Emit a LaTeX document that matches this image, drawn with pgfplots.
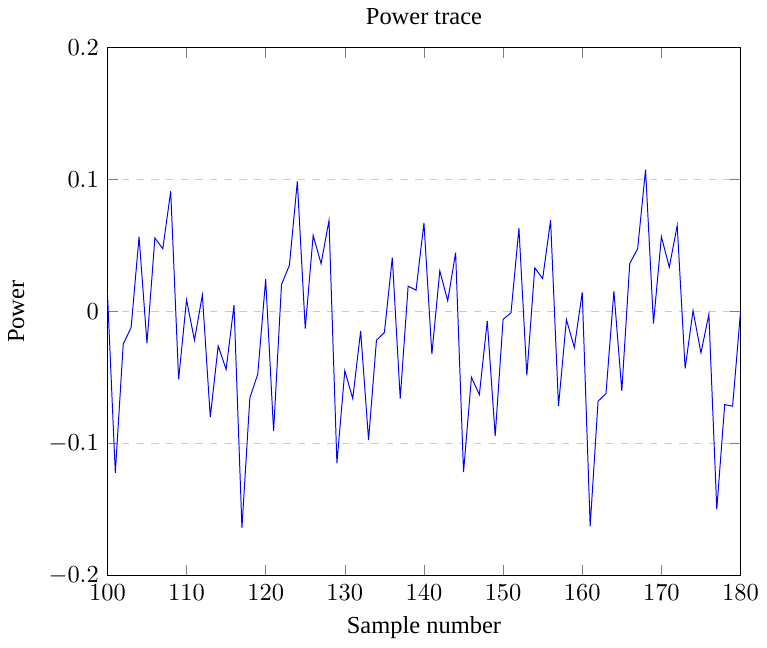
\documentclass[border=0pt]{standalone}
\usepackage[no-math]{fontspec}
\setmainfont{Liberation Serif}
\usepackage{pgfplots}
\pgfplotsset{compat=1.18}

\begin{document}
\begin{tikzpicture}
\begin{axis}[
    scale only axis,
    width=259pt, height=216pt,
    xmin=100, xmax=180,
    ymin=-0.2, ymax=0.2,
    xtick={100,110,...,180},
    ytick={-0.2,-0.1,0,0.1,0.2},
    title={Power trace},
    xlabel={Sample number},
    ylabel={Power},
    ylabel shift=3pt,
    ymajorgrids=true,
    grid style={dashed, gray!40},
]
\addplot[blue, no marks] coordinates {
(100,0.015) (101,-0.122) (102,-0.0246) (103,-0.012) (104,0.0568)
(105,-0.0239) (106,0.0558) (107,0.0477) (108,0.0912) (109,-0.0513)
(110,0.009) (111,-0.0216) (112,0.0126) (113,-0.0799) (114,-0.0259)
(115,-0.0437) (116,0.005) (117,-0.1638) (118,-0.0653) (119,-0.0472)
(120,0.0246) (121,-0.0905) (122,0.0206) (123,0.0352) (124,0.0987)
(125,-0.0128) (126,0.0578) (127,0.0364) (128,0.0691) (129,-0.1148)
(130,-0.0447) (131,-0.0658) (132,-0.0146) (133,-0.0972) (134,-0.0216)
(135,-0.0158) (136,0.041) (137,-0.0658) (138,0.0193) (139,0.0163)
(140,0.0673) (141,-0.0322) (142,0.0309) (143,0.0083) (144,0.0447)
(145,-0.1216) (146,-0.0497) (147,-0.0628) (148,-0.007) (149,-0.0942)
(150,-0.0058) (151,-0.0008) (152,0.0633) (153,-0.0482) (154,0.0332)
(155,0.0251) (156,0.0693) (157,-0.0716) (158,-0.006) (159,-0.0271)
(160,0.0146) (161,-0.1626) (162,-0.0678) (163,-0.062) (164,0.0156)
(165,-0.06) (166,0.0364) (167,0.0477) (168,0.1075) (169,-0.009)
(170,0.0568) (171,0.0337) (172,0.0653) (173,-0.043) (174,0.0008)
(175,-0.0312) (176,-0.002) (177,-0.1497) (178,-0.0704) (179,-0.0716)
(180,0)
};
\end{axis}
\end{tikzpicture}
\end{document}
